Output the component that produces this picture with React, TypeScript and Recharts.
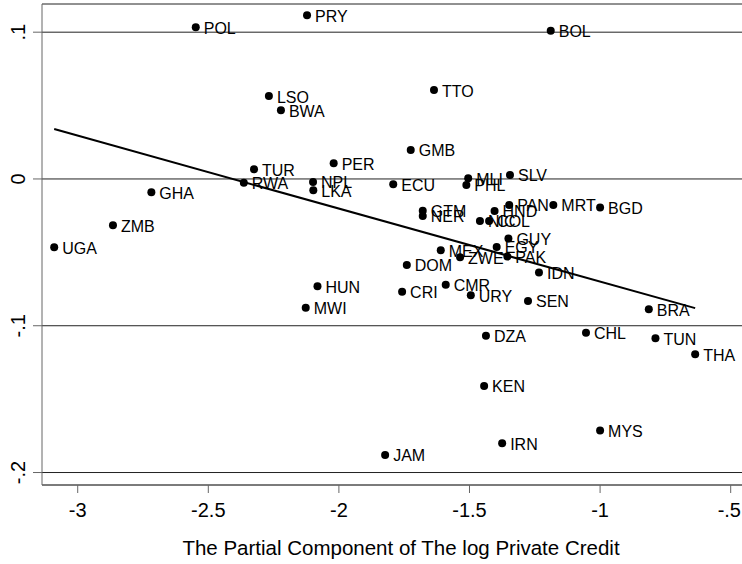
import { ScatterChart, Scatter, XAxis, YAxis, CartesianGrid } from "recharts"

const countries = [
  "POL", "PRY", "BOL", "LSO", "BWA", "TTO", "TUR", "RWA", "GHA", "ZMB",
  "UGA", "NPL", "LKA", "PER", "ECU", "GMB", "MLI", "PHL", "SLV", "GTM",
  "NER", "HND", "PAN", "MRT", "BGD", "NIC", "COL", "GUY", "MEX", "EGY",
  "ZWE", "PAK", "IDN", "DOM", "CRI", "CMR", "URY", "SEN", "DZA", "CHL",
  "HUN", "MWI", "BRA", "TUN", "THA", "KEN", "MYS", "IRN", "JAM",
]

// partial component of log private credit
const credit = [
  -2.548, -2.122, -1.189, -2.268, -2.222, -1.636, -2.325, -2.364, -2.718, -2.865,
  -3.09, -2.099, -2.098, -2.02, -1.792, -1.725, -1.505, -1.512, -1.345, -1.679,
  -1.679, -1.404, -1.348, -1.179, -1.0, -1.46, -1.425, -1.351, -1.61, -1.396,
  -1.536, -1.355, -1.234, -1.74, -1.758, -1.591, -1.495, -1.276, -1.437, -1.054,
  -2.082, -2.127, -0.8135, -0.788, -0.636, -1.444, -1.0, -1.375, -1.823,
]

const residual = [
  0.1033, 0.1115, 0.101, 0.0565, 0.0468, 0.0606, 0.0066, -0.0025, -0.0091, -0.0316,
  -0.0465, -0.002, -0.0077, 0.0107, -0.0036, 0.0198, 0.0005, -0.0041, 0.0027, -0.0216,
  -0.0252, -0.0218, -0.0177, -0.0177, -0.0195, -0.0286, -0.0286, -0.0406, -0.0486, -0.0463,
  -0.0534, -0.0529, -0.0638, -0.0586, -0.0768, -0.072, -0.0792, -0.0831, -0.1069, -0.1047,
  -0.0731, -0.0877, -0.0888, -0.1085, -0.1194, -0.141, -0.1714, -0.18, -0.188,
]

// fitted line end points
const fitX = [-3.09, -0.636]
const fitY = [0.034, -0.088]

const xTicks = [-3, -2.5, -2, -1.5, -1, -0.5]
const yTicks = [-0.2, -0.1, 0, 0.1]

const points = countries.map((name, i) => ({ name, x: credit[i], y: residual[i] }))
const fitLine = fitX.map((x, i) => ({ x, y: fitY[i] }))

const font = "'Liberation Sans', Arial, Helvetica, sans-serif"

const fmt = (v: number) => {
  if (v === 0) return "0"
  return String(v).replace("0.", ".")
}

const LabeledDot = (props: any) => {
  const { cx, cy, payload } = props
  return (
    <g>
      <circle cx={cx} cy={cy} r={4} fill="#000" />
      <text x={cx + 8} y={cy} dy={6.5} fontSize={16} fontFamily={font} fill="#000">
        {payload.name}
      </text>
    </g>
  )
}

const XTick = (props: any) => {
  const { x, y, payload } = props
  return (
    <text x={x} y={y} dy={22} textAnchor="middle" fontSize={20} fontFamily={font} fill="#000">
      {fmt(payload.value)}
    </text>
  )
}

const YTick = (props: any) => {
  const { x, y, payload } = props
  const bx = x - 6
  return (
    <text
      x={bx}
      y={y}
      textAnchor="middle"
      fontSize={20}
      fontFamily={font}
      fill="#000"
      transform={`rotate(-90, ${bx}, ${y})`}
    >
      {fmt(payload.value)}
    </text>
  )
}

export default function App() {
  return (
    <div style={{ position: "absolute", left: 0, top: 0, background: "#fff" }}>
      <ScatterChart width={742} height={564} margin={{ top: 4, right: 0, bottom: 0, left: 0 }}>
        <CartesianGrid vertical={false} stroke="#222" strokeWidth={1} />
        <XAxis
          type="number"
          dataKey="x"
          domain={[-3.1367, -0.4567]}
          allowDataOverflow
          ticks={xTicks}
          tick={<XTick />}
          tickSize={8}
          height={79}
          stroke="#666"
          label={{
            content: (p: any) => {
              const vb = p.viewBox
              return (
                <text
                  x={vb.x + vb.width / 2 + 9}
                  y={555}
                  textAnchor="middle"
                  fontSize={20.5}
                  fontFamily={font}
                  fill="#000"
                >
                  The Partial Component of The log Private Credit
                </text>
              )
            },
          }}
        />
        <YAxis
          type="number"
          dataKey="y"
          domain={[-0.2085, 0.1192]}
          allowDataOverflow
          ticks={yTicks}
          tick={<YTick />}
          tickSize={9}
          width={42}
          stroke="#666"
        />
        <Scatter data={points} shape={<LabeledDot />} isAnimationActive={false} />
        <Scatter
          data={fitLine}
          line={{ stroke: "#000", strokeWidth: 2 }}
          shape={() => <g />}
          isAnimationActive={false}
        />
      </ScatterChart>
    </div>
  )
}
